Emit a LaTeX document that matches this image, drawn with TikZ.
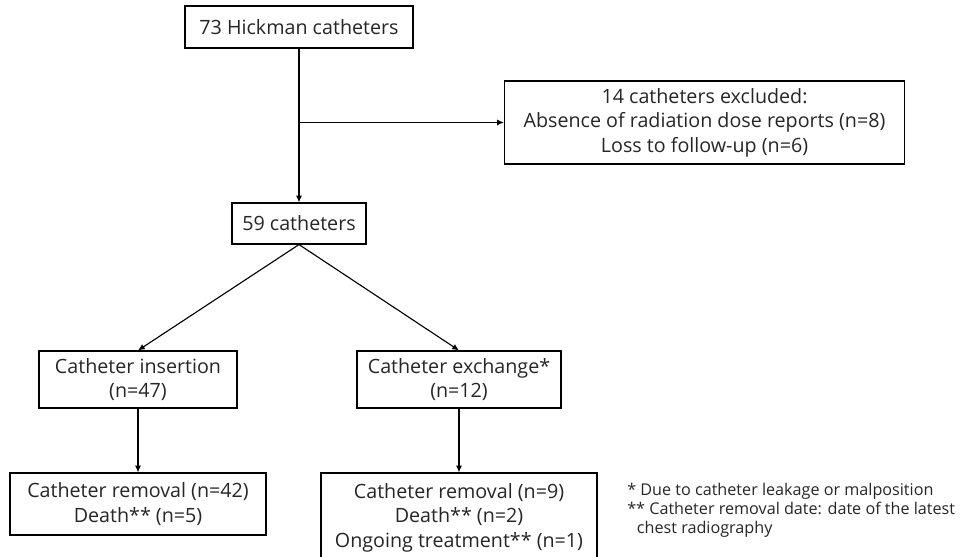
\documentclass[tikz,border=0pt]{standalone}
\usepackage{fontspec}
\setmainfont{Open Sans}
\usetikzlibrary{arrows.meta}

\begin{document}
\begin{tikzpicture}[x=0.025cm, y=-0.025cm,
    box/.style={draw, line width=0.8pt, align=center, inner sep=0pt,
                font=\fontsize{14}{17.5}\selectfont, text=black!85},
    >={Latex[length=1.7mm,width=1.5mm]},
    link/.style={line width=0.8pt},
    every node/.style={font=\small}
]

%------------------------ 画布 ------------------------
\useasboundingbox (0,0) rectangle (966,557);

%------------------------ 方框 ------------------------
\node[box, minimum width=5.7cm, minimum height=1.05cm] (hick) at (299,27) {73 Hickman catheters};
\node[box, minimum width=10cm, minimum height=2.075cm] (excl) at (704.5,122.5)
  {14 catheters excluded:\\ Absence of radiation dose reports (n=8)\\ Loss to follow-up (n=6)};
\node[box, minimum width=3.35cm, minimum height=1.025cm] (cath) at (299,223.5) {59 catheters};

\node[box, minimum width=4.95cm, minimum height=1.425cm] (ins) at (138,379.5) {Catheter insertion\\ (n=47)};
\node[box, minimum width=5.1cm, minimum height=1.425cm] (exch) at (459,379.5) {Catheter exchange*\\ (n=12)};

\node[box, minimum width=6.4cm, minimum height=1.55cm] (rem1) at (138,504) {Catheter removal (n=42)\\ Death** (n=5)};
\node[box, minimum width=6.9cm, minimum height=2.225cm] (rem2) at (459,517.5)
  {Catheter removal (n=9)\\ Death** (n=2)\\ Ongoing treatment** (n=1)};

% 脚注
\node[anchor=north west, align=left, inner sep=0pt, text=black!85,
      font=\fontsize{11.5}{13.6}\selectfont] (note) at (627,483)
  {* Due to catheter leakage or malposition\\
   ** Catheter removal date: date of the latest\\
   \hspace{0.6em}chest radiography};

%------------------------ 连线 ------------------------
\coordinate (split) at (hick.south |- excl.west);
\draw[link,->] (hick) -- (cath);
\draw[link,->] (split) -- (excl);
\draw[link,->] (cath.south) -- (ins.north);
\draw[link,->] (cath.south) -- (exch.north);
\draw[link,->] (ins) -- (rem1);
\draw[link,->] (exch) -- (rem2);

\end{tikzpicture}
\end{document}
